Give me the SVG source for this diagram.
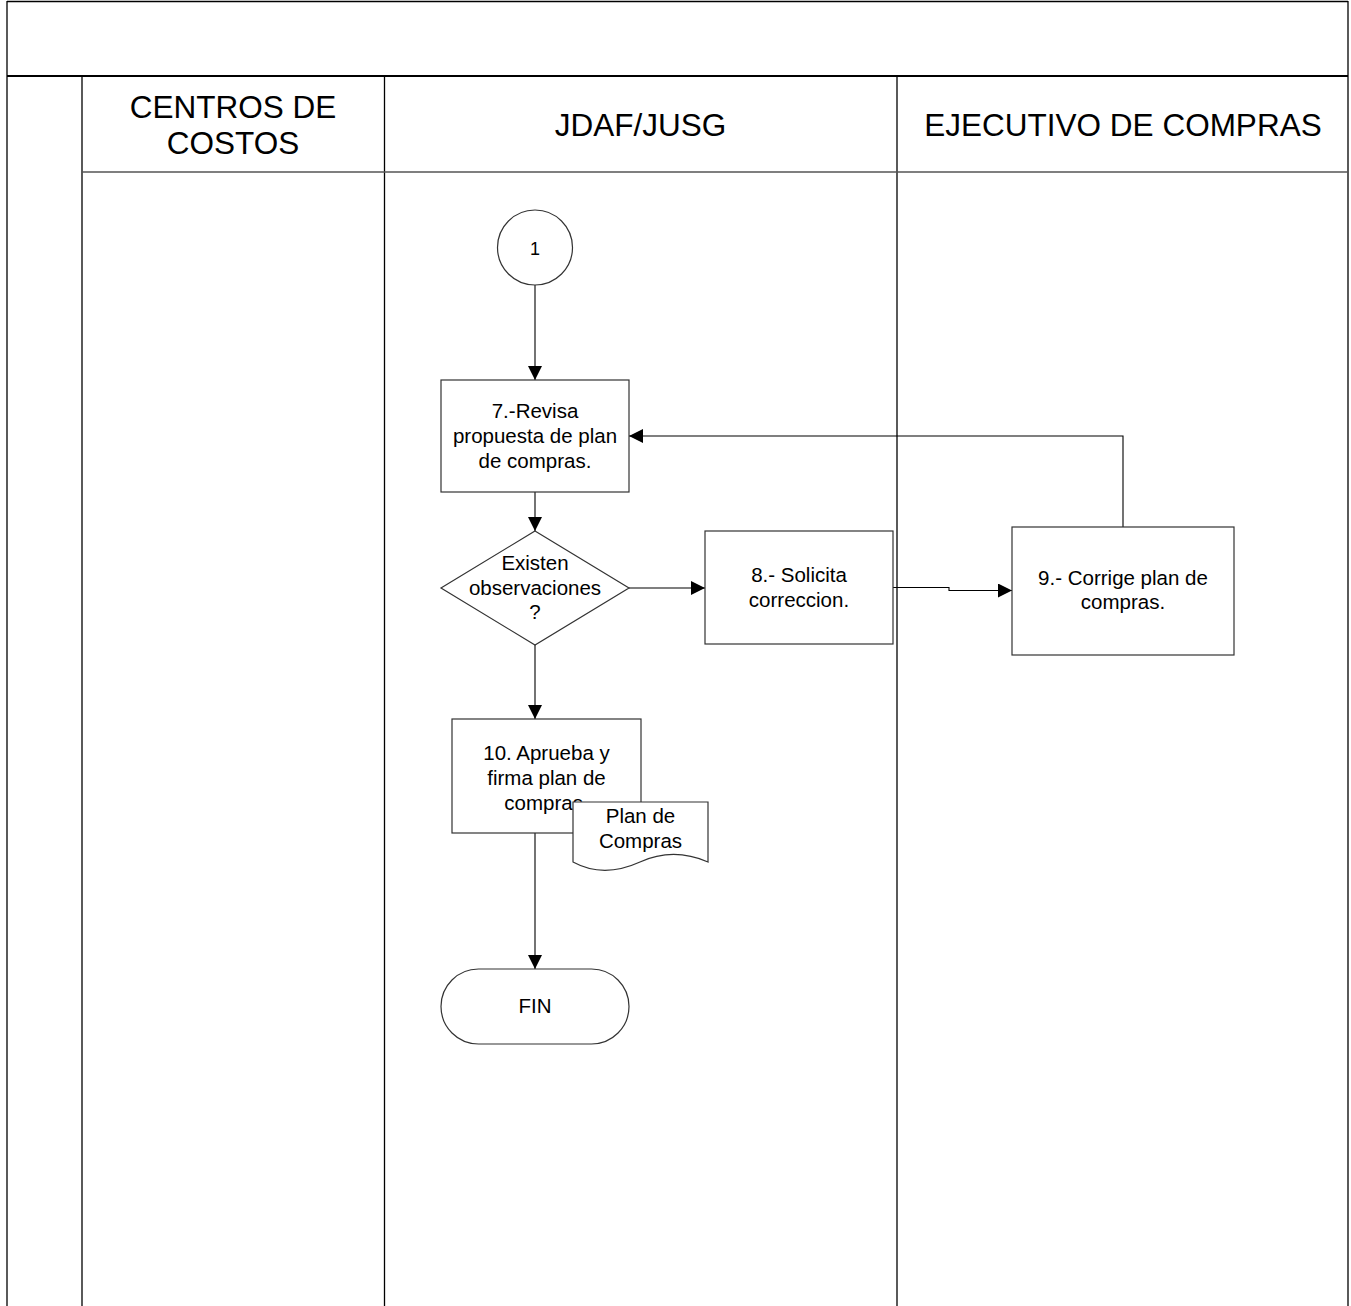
<svg xmlns="http://www.w3.org/2000/svg" width="1351" height="1306" viewBox="0 0 1351 1306">
<style>
.frame{stroke:#000;stroke-width:1.3;fill:none}
.shape{fill:#fff;stroke:#333;stroke-width:1.2}
.conn{fill:none;stroke:#000;stroke-width:1.1}
.hdr{font-family:"Liberation Sans",Arial,sans-serif;font-size:31.5px;text-anchor:middle;fill:#000}
.lbl{font-family:"Liberation Sans",Arial,sans-serif;font-size:20.5px;text-anchor:middle;fill:#000}
</style>
<defs>
<marker id="arr" viewBox="0 0 14 14" refX="14" refY="7" markerWidth="14" markerHeight="14" markerUnits="userSpaceOnUse" orient="auto">
<path d="M0,0 L14,7 L0,14 z" fill="#000"/>
</marker>
</defs>
<rect width="1351" height="1306" fill="#fff"/>
<g id="frame">
<line class="frame" x1="7" y1="1.5" x2="1348" y2="1.5"/>
<line class="frame" x1="7" y1="1" x2="7" y2="1306"/>
<line class="frame" x1="1348" y1="1" x2="1348" y2="1306"/>
<line x1="7" y1="76" x2="1348" y2="76" stroke="#000" stroke-width="2.2"/>
<line class="frame" x1="82" y1="76" x2="82" y2="1306"/>
<line class="frame" x1="384.5" y1="76" x2="384.5" y2="1306"/>
<line class="frame" x1="897" y1="76" x2="897" y2="1306"/>
<line x1="82" y1="172" x2="1348" y2="172" stroke="#555" stroke-width="1.6"/>
</g>
<g id="lane-headers">
<text class="hdr" x="233" y="118">CENTROS DE</text>
<text class="hdr" x="233" y="154">COSTOS</text>
<text class="hdr" x="640.5" y="136">JDAF/JUSG</text>
<text class="hdr" x="1123" y="136">EJECUTIVO DE COMPRAS</text>
</g>
<g id="connectors">
<line class="conn" x1="535" y1="285" x2="535" y2="380" marker-end="url(#arr)"/>
<line class="conn" x1="535" y1="492" x2="535" y2="531" marker-end="url(#arr)"/>
<line class="conn" x1="629" y1="588" x2="705" y2="588" marker-end="url(#arr)"/>
<polyline class="conn" points="893,587.5 949,587.5 949,590.5 1012,590.5" marker-end="url(#arr)"/>
<polyline class="conn" points="1123,527 1123,436 629,436" marker-end="url(#arr)"/>
<line class="conn" x1="535" y1="645" x2="535" y2="719" marker-end="url(#arr)"/>
<line class="conn" x1="535" y1="833" x2="535" y2="969" marker-end="url(#arr)"/>
</g>
<g id="n1">
<circle class="shape" cx="535" cy="247.5" r="37.5"/>
<text class="lbl" x="535" y="255" style="font-size:18px">1</text>
</g>
<g id="n7">
<rect class="shape" x="441" y="380" width="188" height="112"/>
<text class="lbl" x="535" y="418">7.-Revisa</text>
<text class="lbl" x="535" y="443">propuesta de plan</text>
<text class="lbl" x="535" y="468">de compras.</text>
</g>
<g id="decision">
<polygon class="shape" points="535,531 629,588 535,645 441,588"/>
<text class="lbl" x="535" y="570">Existen</text>
<text class="lbl" x="535" y="595">observaciones</text>
<text class="lbl" x="535" y="619">?</text>
</g>
<g id="n8">
<rect class="shape" x="705" y="531" width="188" height="113"/>
<text class="lbl" x="799" y="582">8.- Solicita</text>
<text class="lbl" x="799" y="607">correccion.</text>
</g>
<g id="n9">
<rect class="shape" x="1012" y="527" width="222" height="128"/>
<text class="lbl" x="1123" y="585">9.- Corrige plan de</text>
<text class="lbl" x="1123" y="609">compras.</text>
</g>
<g id="n10">
<rect class="shape" x="452" y="719" width="189" height="114"/>
<text class="lbl" x="546.5" y="760">10. Aprueba y</text>
<text class="lbl" x="546.5" y="785">firma plan de</text>
<text class="lbl" x="546.5" y="810">compras.</text>
</g>
<g id="doc">
<path class="shape" d="M573,802 H708 V862 C685,852 662,852 640,862 C618,872 595,874 573,862 Z"/>
<text class="lbl" x="640.5" y="823">Plan de</text>
<text class="lbl" x="640.5" y="848">Compras</text>
</g>
<g id="fin">
<rect class="shape" x="441" y="969" width="188" height="75" rx="37.5" ry="37.5"/>
<text class="lbl" x="535" y="1013">FIN</text>
</g>
</svg>
